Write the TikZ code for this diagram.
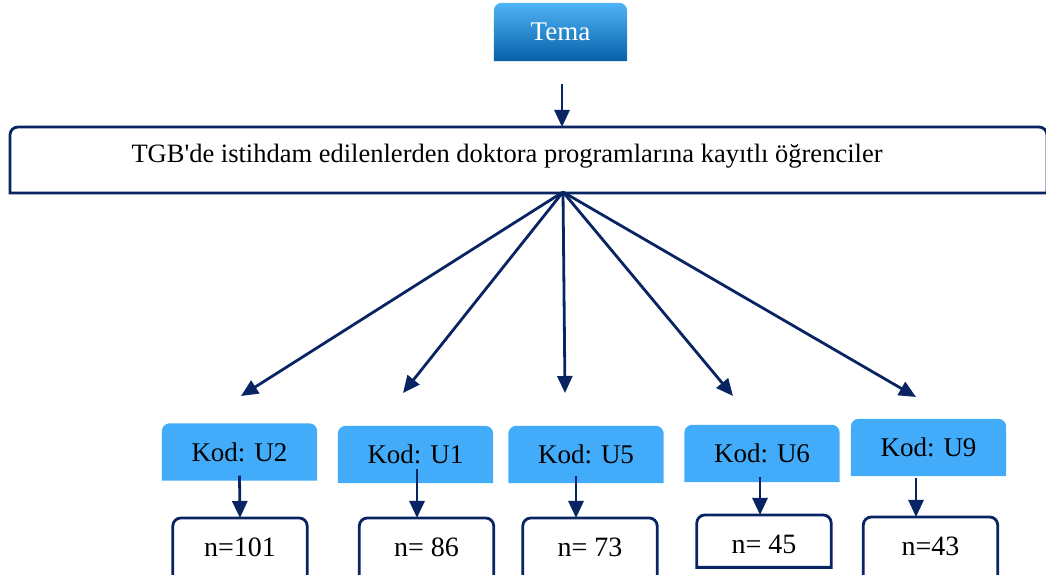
\documentclass[tikz,border=0pt]{standalone}
\usepackage{fontspec}
\setmainfont{Liberation Serif}
\usetikzlibrary{arrows.meta, backgrounds}

\definecolor{navy}{RGB}{8,36,99}
\definecolor{kodblue}{RGB}{66,172,250}
\definecolor{temalight}{RGB}{80,180,246}
\definecolor{temamid}{RGB}{10,136,226}
\definecolor{temadark}{RGB}{6,96,168}

\begin{document}
\begin{tikzpicture}[x=1pt, y=1pt,
    conn/.style={navy, line width=2.8pt, -{Triangle[length=17pt, width=15pt]}},
    frame/.style={draw=navy, line width=2.8pt, rounded corners=8pt},
    kodbox/.style={minimum width=155pt, minimum height=57pt, inner sep=0pt,
      text depth=0pt, font=\fontsize{27}{31}\selectfont},
    nbox/.style={anchor=north, minimum width=134pt, minimum height=52pt,
      inner sep=0pt, text height=25pt, text depth=0pt,
      font=\fontsize{28}{32}\selectfont}]
  \useasboundingbox (0,0) rectangle (1046,575);
  \clip (0,0) rectangle (1046,575);

  \coordinate (top) at (562,448);
  \coordinate (hub) at (563,383);
  \coordinate (e2) at (241,179);
  \coordinate (e1) at (403,182);
  \coordinate (e5) at (565,182);
  \coordinate (e6) at (733,179);
  \coordinate (e9) at (916,178);

  \node[minimum width=133pt, minimum height=58pt, inner sep=0pt, text=white,
    text depth=0pt, font=\fontsize{27}{31}\selectfont] (tema) at (560.5,543) {Tema};
  \draw[conn] ([xshift=1.5pt, yshift=-23pt]tema.south) -- (top);

  \draw[frame, line cap=rect] (10,382) |- (528,448) -| (1047,382)
    (10,382) -- (1047,382);
  \node[anchor=base, font=\fontsize{26.5}{30}\selectfont] (doktora) at (507,412)
    {TGB\textquotesingle de istihdam edilenlerden doktora programlarına kayıtlı öğrenciler};

  \draw[conn] (hub) -- (e2);
  \draw[conn] (hub) -- (e1);
  \draw[conn] (hub) -- (e5);
  \draw[conn] (hub) -- (e6);
  \draw[conn] (hub) -- (e9);

  \node[kodbox] (u2) at (239.5,123) {Kod: U2};
  \node[kodbox] (u1) at (415.5,120.5) {Kod: U1};
  \node[kodbox] (u5) at (586,120.5) {Kod: U5};
  \node[kodbox] (u6) at (762,121.5) {Kod: U6};
  \node[kodbox] (u9) at (928.5,127.5) {Kod: U9};

  \begin{scope}[on background layer]
    \shade[top color=temalight, middle color=temamid, bottom color=temadark,
      rounded corners=8pt] (tema.south west) |- (tema.north) -| (tema.south east);
    \fill[kodblue, rounded corners=8pt] (u2.south west) |- (u2.north) -| (u2.south east);
    \fill[kodblue, rounded corners=8pt] (u1.south west) |- (u1.north) -| (u1.south east);
    \fill[kodblue, rounded corners=8pt] (u5.south west) |- (u5.north) -| (u5.south east);
    \fill[kodblue, rounded corners=8pt] (u6.south west) |- (u6.north) -| (u6.south east);
    \fill[kodblue, rounded corners=8pt] (u9.south west) |- (u9.north) -| (u9.south east);
  \end{scope}

  \node[nbox] (n2) at (240,57) {n=101};
  \node[nbox] (n1) at (426.5,57) {n= 86};
  \node[nbox] (n5) at (590,57) {n= 73};
  \node[nbox] (n6) at (764,60) {n= 45};
  \node[nbox] (n9) at (930.5,58) {n=43};

  \draw[frame] ([yshift=-10pt]n2.south west) |- (n2.north) -| ([yshift=-10pt]n2.south east);
  \draw[frame] ([yshift=-10pt]n1.south west) |- (n1.north) -| ([yshift=-10pt]n1.south east);
  \draw[frame] ([yshift=-10pt]n5.south west) |- (n5.north) -| ([yshift=-10pt]n5.south east);
  \draw[frame, line cap=rect] (n6.south west) |- (n6.north) -| (n6.south east)
    (n6.south west) -- (n6.south east);
  \draw[frame] ([yshift=-10pt]n9.south west) |- (n9.north) -| ([yshift=-10pt]n9.south east);

  \draw[conn] ([yshift=5pt]u2.south) -- (n2.north);
  \draw[conn] ([xshift=1.5pt, yshift=14pt]u1.south) -- ([xshift=-9.5pt]n1.north);
  \draw[conn] ([xshift=-10pt, yshift=7pt]u5.south) -- ([xshift=-14pt]n5.north);
  \draw[conn] ([xshift=-2pt, yshift=5pt]u6.south) -- ([xshift=-4pt]n6.north);
  \draw[conn] ([xshift=-12.5pt, yshift=-2pt]u9.south) -- ([xshift=-14.5pt]n9.north);
\end{tikzpicture}
\end{document}
